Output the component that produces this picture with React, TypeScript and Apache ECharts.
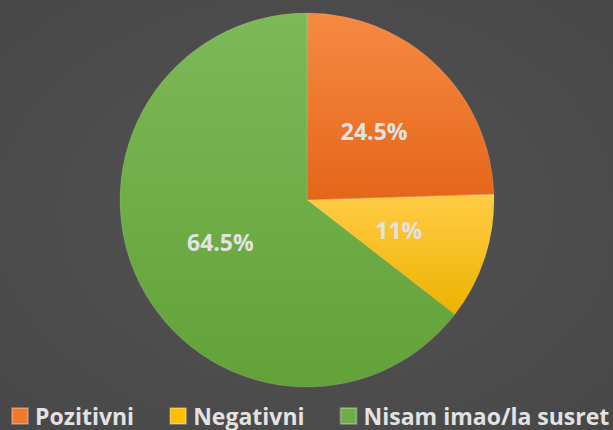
import React, { useEffect, useRef } from "react";
import * as echarts from "echarts";

const categories = ["Pozitivni", "Negativni", "Nisam imao/la susret"];
const values = [24.5, 11, 64.5];
const labels = ["24.5%", "11%", "64.5%"];

const grad = (a: string, b: string) =>
  new echarts.graphic.LinearGradient(0, 0, 0, 1, [
    { offset: 0, color: a },
    { offset: 1, color: b },
  ]);

export default function App() {
  const ref = useRef<HTMLDivElement>(null);
  useEffect(() => {
    const chart = echarts.init(ref.current!, null, { renderer: "svg" });
    const colors = [
      grad("#F68A43", "#E4661A"),
      grad("#FFCB45", "#EDB300"),
      grad("#7DB957", "#62A238"),
    ];
    chart.setOption({
      animation: false,
      backgroundColor: new echarts.graphic.RadialGradient(0.5, 0.5, 0.8, [
        { offset: 0, color: "#535353" },
        { offset: 1, color: "#464646" },
      ]),
      legend: {
        top: 404,
        left: 11,
        width: 700,
        padding: 0,
        itemWidth: 16,
        itemHeight: 16,
        itemGap: 35,
        icon: "rect",
        textStyle: {
          color: "#E2E2E2",
          fontSize: 23,
          fontWeight: "bold",
          fontFamily: "Open Sans",
          padding: [0, 0, 0, 2],
          lineHeight: 24,
        },
        data: categories.map((c, i) => ({
          name: c,
          itemStyle: { color: ["#F0782F", "#FFC000", "#70AD47"][i] },
        })),
      },
      series: [
        {
          type: "pie",
          center: [307, 200],
          radius: [0, 187],
          startAngle: 90,
          clockwise: true,
          label: {
            position: "inside",
            color: "#E2E2E2",
            fontSize: 23,
            fontWeight: "bold",
            fontFamily: "Open Sans",
            formatter: (p: any) => labels[p.dataIndex],
          },
          labelLine: { show: false },
          itemStyle: { borderColor: "rgba(255,255,255,0.25)", borderWidth: 0.5 },
          emphasis: { disabled: true },
          data: categories.map((c, i) => ({
            name: c,
            value: values[i],
            itemStyle: { color: colors[i] },
          })),
        },
      ],
    });
    return () => chart.dispose();
  }, []);
  return <div ref={ref} style={{ width: 613, height: 430, position: "absolute", left: 0, top: 0 }} />;
}
